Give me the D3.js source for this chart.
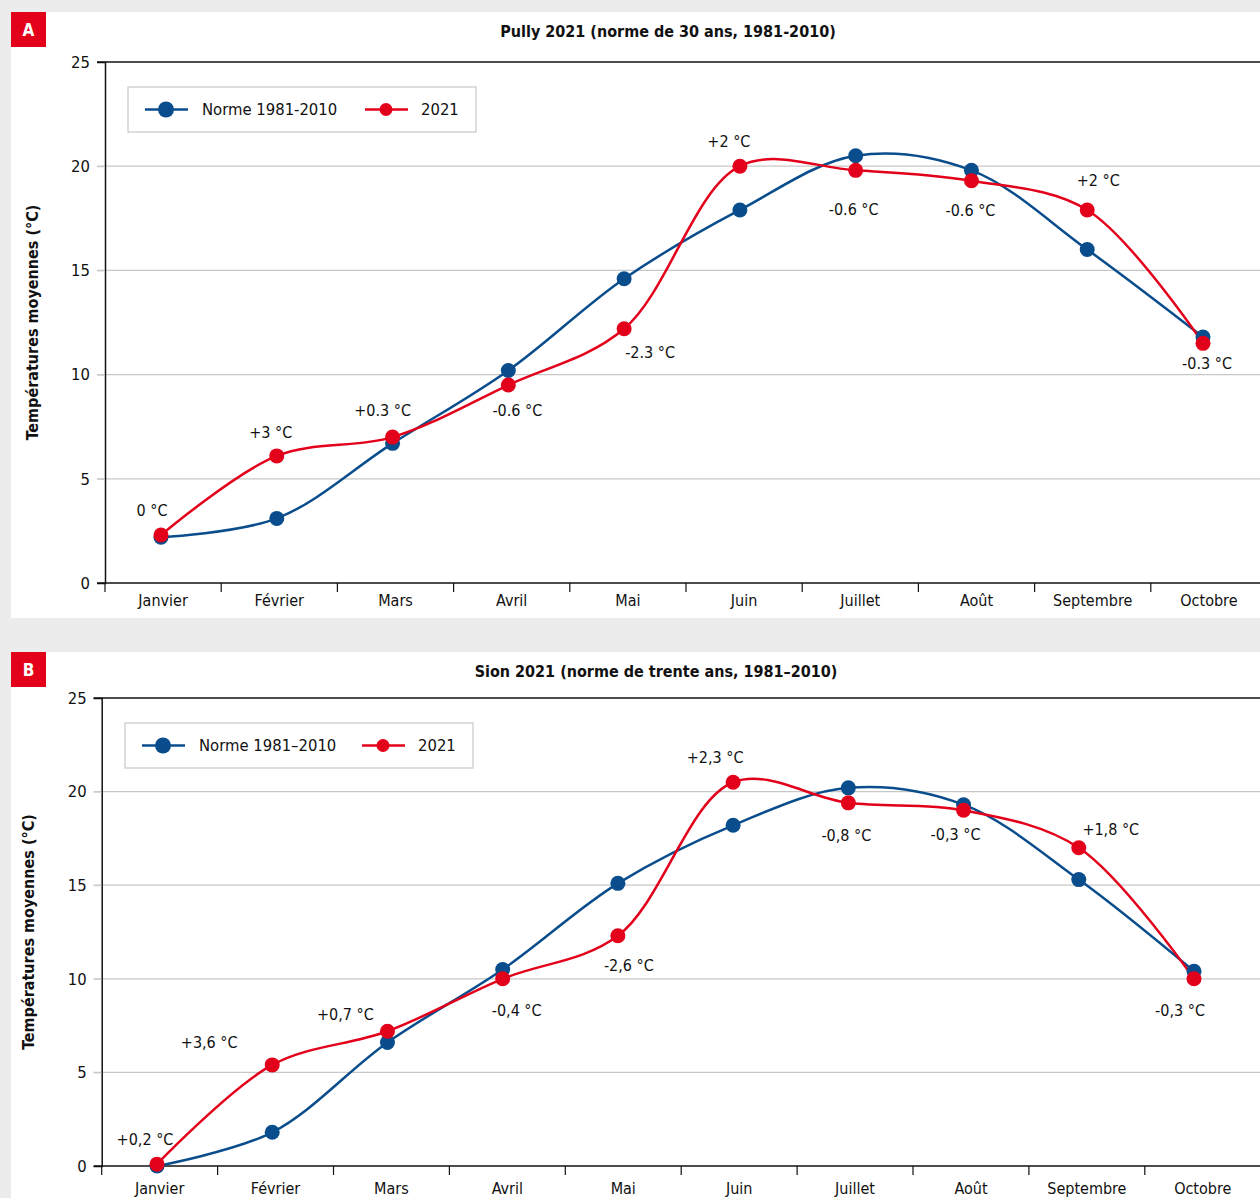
<!DOCTYPE html>
<html>
<head>
<meta charset="utf-8">
<script src="https://cdn.jsdelivr.net/npm/d3@7"></script>
<style>
  body { margin: 0; background: #ebeceb; }
  svg { display: block; }
  text { font-family: "Liberation Sans Narrow", "DejaVu Sans Condensed", "Roboto Condensed", Roboto, sans-serif; fill: #111; }
</style>
</head>
<body>
<svg id="chart" width="1260" height="1198"></svg>
<script>
// ---- data ----
const months = ['Janvier', 'Février', 'Mars', 'Avril', 'Mai', 'Juin', 'Juillet', 'Août', 'Septembre', 'Octobre'];
const yTicks = [0, 5, 10, 15, 20, 25];

const pullyNorme = [2.2, 3.1, 6.7, 10.2, 14.6, 17.9, 20.5, 19.8, 16.0, 11.8];
const pully2021 = [2.3, 6.1, 7.0, 9.5, 12.2, 20.0, 19.8, 19.3, 17.9, 11.5];
const pullyDiffLabels = ['0 °C', '+3 °C', '+0.3 °C', '-0.6 °C', '-2.3 °C', '+2 °C', '-0.6 °C', '-0.6 °C', '+2 °C', '-0.3 °C'];

const sionNorme = [0.0, 1.8, 6.6, 10.5, 15.1, 18.2, 20.2, 19.3, 15.3, 10.4];
const sion2021 = [0.1, 5.4, 7.2, 10.0, 12.3, 20.5, 19.4, 19.0, 17.0, 10.0];
const sionDiffLabels = ['+0,2 °C', '+3,6 °C', '+0,7 °C', '-0,4 °C', '-2,6 °C', '+2,3 °C', '-0,8 °C', '-0,3 °C', '+1,8 °C', '-0,3 °C'];

// ---- layout (label offsets from the red dots) ----
const pullyLabelOffsets = [[-9, -25], [-6, -24], [-10, -27], [9, 25], [26, 23], [-11, -25], [-2, 39], [-1, 29], [11, -30], [4, 20]];
const sionLabelOffsets = [[-12, -25], [-63, -23], [-42, -17], [14, 31], [11, 29], [-18, -25], [-2, 32], [-8, 24], [32, -19], [-14, 31]];

const BLUE = '#0a4d8c';
const RED = '#e3001b';

const svg = d3.select('#chart');

function drawPanel(p) {
  const g = svg.append('g');

  // white card + badge
  g.append('rect').attr('x', 11).attr('y', p.top).attr('width', 1249).attr('height', p.height).attr('fill', '#fff');
  g.append('rect').attr('x', 11).attr('y', p.top).attr('width', 35).attr('height', 35).attr('fill', RED);
  g.append('text').attr('x', 28.5).attr('y', p.top + 18).attr('dy', '0.36em')
    .attr('text-anchor', 'middle').attr('font-weight', 'bold').attr('font-size', 17)
    .style('fill', '#fff').text(p.badge);

  g.append('text').attr('x', p.titleX).attr('y', p.top + 19).attr('dy', '0.36em')
    .attr('text-anchor', 'middle').attr('font-weight', 'bold').attr('font-size', 16)
    .text(p.title);

  const x = d3.scaleBand().domain(months).range([p.left, p.left + 10 * p.bw]);
  const xDot = d3.scalePoint().domain(months).range(p.dotRange);
  const y = d3.scaleLinear().domain([0, 25]).range([p.y0, p.y25]);

  // grid
  g.append('g').selectAll('line').data(yTicks.filter(t => t > 0 && t < 25)).join('line')
    .attr('x1', p.left - 8).attr('x2', 1260)
    .attr('y1', d => y(d)).attr('y2', d => y(d))
    .attr('stroke', '#c8c8c8').attr('stroke-width', 1.2);
  g.append('line').attr('x1', p.left - 8).attr('x2', 1260).attr('y1', y(25)).attr('y2', y(25))
    .attr('stroke', '#111').attr('stroke-width', 1.5);

  // y axis
  const yAxis = g.append('g').attr('transform', `translate(${p.left},0)`)
    .call(d3.axisLeft(y).tickValues(yTicks).tickSize(8).tickPadding(7));
  yAxis.select('.domain').attr('stroke', '#111').attr('stroke-width', 1.5);
  yAxis.selectAll('.tick line').attr('stroke', d => (d === 0 || d === 25) ? '#111' : '#c8c8c8');
  yAxis.selectAll('text').attr('font-size', 16.5).attr('font-family', null);

  // x axis
  const xAxis = g.append('g').attr('transform', `translate(0,${p.y0})`)
    .call(d3.axisBottom(x).tickSize(0).tickPadding(p.xPad));
  xAxis.select('.domain').remove();
  xAxis.selectAll('text').attr('font-size', 16).attr('font-family', null);
  g.append('line').attr('x1', p.left - 8).attr('x2', 1260).attr('y1', p.y0).attr('y2', p.y0)
    .attr('stroke', '#111').attr('stroke-width', 1.5);
  g.append('g').selectAll('line').data(months).join('line')
    .attr('x1', d => x(d)).attr('x2', d => x(d))
    .attr('y1', p.y0).attr('y2', p.y0 + 9)
    .attr('stroke', '#111').attr('stroke-width', 1.2);

  // y label
  g.append('text')
    .attr('transform', `translate(${p.ylabX},${(y(0) + y(25)) / 2 + p.ylabShift}) rotate(-90)`)
    .attr('text-anchor', 'middle').attr('font-weight', 'bold').attr('font-size', 16)
    .text('Températures moyennes (°C)');

  // lines
  const line = d3.line()
    .x((d, i) => xDot(months[i]))
    .y(d => y(d))
    .curve(d3.curveCatmullRom.alpha(0.5));

  g.append('path').datum(p.norme).attr('d', line)
    .attr('fill', 'none').attr('stroke', BLUE).attr('stroke-width', 2.5);
  g.append('path').datum(p.y2021).attr('d', line)
    .attr('fill', 'none').attr('stroke', RED).attr('stroke-width', 2.5);

  g.append('g').selectAll('circle').data(p.norme).join('circle')
    .attr('cx', (d, i) => xDot(months[i])).attr('cy', d => y(d)).attr('r', 7.5).attr('fill', BLUE);
  g.append('g').selectAll('circle').data(p.y2021).join('circle')
    .attr('cx', (d, i) => xDot(months[i])).attr('cy', d => y(d)).attr('r', 7.5).attr('fill', RED);

  // difference labels
  g.append('g').selectAll('text').data(p.labels).join('text')
    .attr('x', (d, i) => xDot(months[i]) + p.offsets[i][0])
    .attr('y', (d, i) => y(p.y2021[i]) + p.offsets[i][1])
    .attr('dy', '0.36em').attr('text-anchor', 'middle').attr('font-size', 16)
    .text(d => d);

  // legend
  const lg = g.append('g').attr('transform', `translate(${p.legend[0]},${p.legend[1]})`);
  lg.append('rect').attr('width', 348).attr('height', 45)
    .attr('fill', '#fff').attr('stroke', '#c8c8c8').attr('stroke-width', 1.2);
  const items = [
    { name: p.normeName, color: BLUE, lx: 17, r: 8, tx: 74 },
    { name: '2021', color: RED, lx: 237, r: 6.5, tx: 293 }
  ];
  items.forEach(it => {
    lg.append('line').attr('x1', it.lx).attr('x2', it.lx + 43).attr('y1', 22.5).attr('y2', 22.5)
      .attr('stroke', it.color).attr('stroke-width', 2.5);
    lg.append('circle').attr('cx', it.lx + 21).attr('cy', 22.5).attr('r', it.r).attr('fill', it.color);
    lg.append('text').attr('x', it.tx).attr('y', 22.5).attr('dy', '0.36em').attr('font-size', 16.5).text(it.name);
  });
}

drawPanel({
  top: 12, height: 606, badge: 'A',
  title: 'Pully 2021 (norme de 30 ans, 1981-2010)', titleX: 668,
  left: 105, bw: 116.2, dotRange: [161, 1203],
  y0: 583, y25: 62, ylabX: 38, ylabShift: 0, xPad: 12,
  norme: pullyNorme, y2021: pully2021, labels: pullyDiffLabels, offsets: pullyLabelOffsets,
  legend: [128, 87], normeName: 'Norme 1981-2010'
});

drawPanel({
  top: 652, height: 560, badge: 'B',
  title: 'Sion 2021 (norme de trente ans, 1981–2010)', titleX: 656,
  left: 101.7, bw: 115.9, dotRange: [157, 1194],
  y0: 1166, y25: 698, ylabX: 34, ylabShift: 0, xPad: 17,
  norme: sionNorme, y2021: sion2021, labels: sionDiffLabels, offsets: sionLabelOffsets,
  legend: [125, 723], normeName: 'Norme 1981–2010'
});
</script>
</body>
</html>
